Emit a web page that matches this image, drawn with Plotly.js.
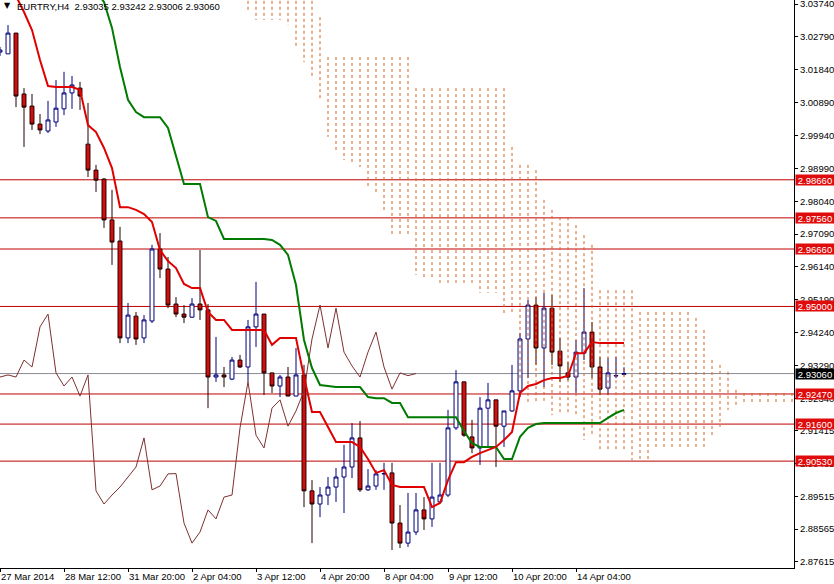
<!DOCTYPE html>
<html>
<head>
<meta charset="utf-8">
<script src="https://cdn.plot.ly/plotly-3.0.1.min.js"></script>
<style>html,body{margin:0;padding:0;background:#fff;}#chart{width:834px;height:584px;}</style>
</head>
<body>
<div id="chart"></div>
<script>
// ---- Data (EURTRY, H4) ----
const symbolTitle = "EURTRY,H4  2.93035 2.93242 2.93006 2.93060";
const open = [3.0235, 3.0230, 3.0290, 3.0114, 3.0079, 3.0027, 3.0007, 3.0033, 3.0071, 3.0117,
 3.0131, 2.9969, 2.9894, 2.9868, 2.9750, 2.9689, 2.9409, 2.9472, 2.9409, 2.9458,
 2.9666, 2.9608, 2.9507, 2.9478, 2.9469, 2.9507, 2.9490, 2.9296, 2.9302, 2.9290,
 2.9345, 2.9325, 2.9441, 2.9478, 2.9308, 2.9270, 2.9296, 2.9241, 2.9302, 2.8967,
 2.8929, 2.8955, 2.8978, 2.9007, 2.9036, 2.9120, 2.8970, 2.8981, 2.9016, 2.9019,
 2.8874, 2.8816, 2.8848, 2.8912, 2.8886, 2.8935, 2.8955, 2.9149, 2.9282, 2.9123,
 2.9091, 2.9206, 2.9230, 2.9154, 2.9198, 2.9256, 2.9406, 2.9504, 2.9380, 2.9495,
 2.9371, 2.9308, 2.9296, 2.9365, 2.9426, 2.9325, 2.9264, 2.9299, 2.93035];
const high = [3.0250, 3.0313, 3.0290, 3.0131, 3.0114, 3.0056, 3.0094, 3.0154, 3.0178, 3.0166,
 3.0149, 3.0088, 2.9909, 2.9871, 2.9837, 2.9730, 2.9510, 2.9484, 2.9475, 2.9678,
 2.9712, 2.9643, 2.9527, 2.9504, 2.9524, 2.9663, 2.9507, 2.9412, 2.9325, 2.9354,
 2.9360, 2.9461, 2.9571, 2.9478, 2.9308, 2.9302, 2.9325, 2.9380, 2.9331, 2.8998,
 2.8978, 2.9007, 2.9033, 2.9100, 2.9163, 2.9169, 2.9030, 2.9027, 2.9048, 2.9048,
 2.8926, 2.8961, 2.8961, 2.8949, 2.9048, 2.9048, 2.9201, 2.9316, 2.9282, 2.9172,
 2.9238, 2.9279, 2.9230, 2.9198, 2.9331, 2.9423, 2.9519, 2.9527, 2.9539, 2.9533,
 2.9409, 2.9339, 2.9403, 2.9553, 2.9455, 2.9354, 2.9351, 2.9354, 2.93242];
const low = [3.0224, 3.0230, 3.0076, 2.9961, 3.0010, 2.9998, 3.0001, 3.0019, 3.0053, 3.0071,
 3.0068, 2.9874, 2.9831, 2.9727, 2.9620, 2.9394, 2.9394, 2.9389, 2.9394, 2.9452,
 2.9582, 2.9495, 2.9469, 2.9452, 2.9467, 2.9461, 2.9206, 2.9282, 2.9267, 2.9287,
 2.9322, 2.9282, 2.9383, 2.9244, 2.9250, 2.9238, 2.9241, 2.9241, 2.8920, 2.8816,
 2.8891, 2.8926, 2.8935, 2.8903, 2.9004, 2.8964, 2.8967, 2.8970, 2.8970, 2.8796,
 2.8802, 2.8805, 2.8839, 2.8854, 2.8863, 2.8932, 2.8949, 2.9143, 2.9123, 2.9076,
 2.9042, 2.9094, 2.9036, 2.9094, 2.9195, 2.9238, 2.9293, 2.9331, 2.9267, 2.9331,
 2.9282, 2.9287, 2.9250, 2.9345, 2.9293, 2.9244, 2.9244, 2.9293, 2.93006];
const close = [3.0241, 3.0290, 3.0108, 3.0076, 3.0027, 3.0010, 3.0039, 3.0073, 3.0117, 3.0140,
 3.0108, 2.9894, 2.9865, 2.9750, 2.9686, 2.9409, 2.9475, 2.9406, 2.9461, 2.9666,
 2.9608, 2.9504, 2.9478, 2.9469, 2.9507, 2.9490, 2.9296, 2.9302, 2.9296, 2.9345,
 2.9325, 2.9441, 2.9478, 2.9308, 2.9270, 2.9296, 2.9241, 2.9302, 2.8967, 2.8929,
 2.8955, 2.8978, 2.9007, 2.9036, 2.9120, 2.8970, 2.8981, 2.9016, 2.9017, 2.8874,
 2.8816, 2.8848, 2.8912, 2.8886, 2.8949, 2.8955, 2.9149, 2.9282, 2.9128, 2.9091,
 2.9206, 2.9230, 2.9154, 2.9198, 2.9256, 2.9406, 2.9504, 2.9380, 2.9495, 2.9368,
 2.9328, 2.9296, 2.9368, 2.9426, 2.9325, 2.9261, 2.9308, 2.9300, 2.93060];

// Ichimoku Tenkan-sen (red) and Kijun-sen (green)
const tenkan = [3.0501, 3.0443, 3.0397, 3.0351, 3.0299, 3.0212, 3.0137, 3.0134, 3.0134, 3.0134,
 3.0126, 3.0024, 3.0004, 2.9958, 2.9900, 2.9787, 2.9787, 2.9779, 2.9767, 2.9744,
 2.9663, 2.9631, 2.9611, 2.9565, 2.9553, 2.9553, 2.9484, 2.9461, 2.9461, 2.9432,
 2.9432, 2.9432, 2.9432, 2.9432, 2.9389, 2.9409, 2.9409, 2.9409, 2.9296, 2.9195,
 2.9195, 2.9152, 2.9108, 2.9108, 2.9108, 2.9094, 2.9059, 2.9019, 2.9027, 2.8984,
 2.8978, 2.8978, 2.8978, 2.8978, 2.8920, 2.8932, 2.8998, 2.9050, 2.9050, 2.9065,
 2.9076, 2.9085, 2.9094, 2.9114, 2.9137, 2.9250, 2.9270, 2.9276, 2.9287, 2.9293,
 2.9293, 2.9299, 2.9365, 2.9365, 2.9397, 2.9394, 2.9394, 2.9394, 2.9394];
const kijun = [null, null, null, null, null, null, null, null, null, null,
 null, null, 3.0409, 3.0380, 3.0305, 3.0192, 3.0097, 3.0062, 3.0047, 3.0047,
 3.0047, 3.0016, 2.9932, 2.9854, 2.9854, 2.9854, 2.9758, 2.9747, 2.9695, 2.9695,
 2.9695, 2.9695, 2.9695, 2.9695, 2.9692, 2.9678, 2.9649, 2.9562, 2.9403, 2.9322,
 2.9273, 2.9270, 2.9267, 2.9267, 2.9267, 2.9267, 2.9238, 2.9235, 2.9235, 2.9221,
 2.9221, 2.9180, 2.9180, 2.9180, 2.9180, 2.9180, 2.9180, 2.9180, 2.9140, 2.9105,
 2.9094, 2.9094, 2.9094, 2.9059, 2.9059, 2.9123, 2.9149, 2.9160, 2.9163, 2.9163,
 2.9163, 2.9163, 2.9163, 2.9163, 2.9163, 2.9163, 2.9178, 2.9192, 2.9201];

// Kumo (cloud) bounds, starting at bar cloudStart
const cloudStart = 31;
const cloudUpper = [3.0470, 3.0470, 3.0470, 3.0470, 3.0470, 3.0470, 3.0470, 3.0470, 3.0470,
 3.0336, 3.0221, 3.0221, 3.0221, 3.0221, 3.0221, 3.0221, 3.0221, 3.0221, 3.0221, 3.0221, 3.0221,
 3.0131, 3.0131, 3.0131, 3.0131, 3.0131, 3.0131, 3.0131, 3.0131, 3.0131, 3.0131, 3.0131, 3.0131,
 2.9961, 2.9909, 2.9909, 2.9894, 2.9808, 2.9779, 2.9758, 2.9758, 2.9735, 2.9706, 2.9678,
 2.9547, 2.9547, 2.9547, 2.9547, 2.9547,
 2.9484, 2.9484, 2.9484, 2.9484, 2.9484, 2.9484, 2.9484,
 2.9467, 2.9432, 2.9345, 2.9331, 2.9311, 2.9259,
 2.9250, 2.9250, 2.9250, 2.9250, 2.9250, 2.9250, 2.9250];
const cloudLower = [3.0351, 3.0328, 3.0328, 3.0328, 3.0328, 3.0313, 3.0247, 3.0206, 3.0157,
 3.0102, 2.9990, 2.9943, 2.9923, 2.9909, 2.9903, 2.9842, 2.9828, 2.9773, 2.9706, 2.9706, 2.9706,
 2.9591, 2.9582, 2.9576, 2.9568, 2.9568, 2.9568, 2.9568, 2.9568, 2.9539, 2.9539, 2.9539, 2.9481,
 2.9481, 2.9287, 2.9224, 2.9224, 2.9224, 2.9186, 2.9186, 2.9186, 2.9186, 2.9114, 2.9128,
 2.9079, 2.9079, 2.9079, 2.9079, 2.9056,
 2.9056, 2.9056, 2.9094, 2.9094, 2.9094, 2.9094, 2.9094,
 2.9094, 2.9094, 2.9123, 2.9152, 2.9201, 2.9215,
 2.9215, 2.9215, 2.9215, 2.9215, 2.9215, 2.9215, 2.9215];

// Horizontal levels and last price
const levels = [2.9866, 2.9756, 2.9666, 2.9500, 2.9247, 2.9160, 2.9053];
const levelLabels = ["2.98660", "2.97560", "2.96660", "2.95000", "2.92470", "2.91600", "2.90530"];
const lastPrice = 2.9306;
const lastPriceLabel = "2.93060";

// Axis ticks
const xTickBars = [0, 8, 16, 24, 32, 40, 48, 56, 64, 72];
const xTickText = ["27 Mar 2014", "28 Mar 12:00", "31 Mar 20:00", "2 Apr 04:00", "3 Apr 12:00",
 "4 Apr 20:00", "8 Apr 04:00", "9 Apr 12:00", "10 Apr 20:00", "14 Apr 04:00"];
const yTickText = ["3.03740", "3.02790", "3.01840", "3.00890", "2.99940", "2.98990", "2.98040",
 "2.97090", "2.96140", "2.95190", "2.94240", "2.93290", "2.92340", "2.91415", "2.90465",
 "2.89515", "2.88565", "2.87615"];
const yTickVals = yTickText.map(Number);

// ---- Build traces ----
const bars = open.map((_, i) => i);
const chikouShift = 26;

const cx = [], cy = [];
cloudUpper.forEach((u, k) => {
  const i = cloudStart + k;
  cx.push(i, i, null);
  cy.push(u, cloudLower[k], null);
});

const traces = [
  { type: 'scatter', mode: 'lines', x: cx, y: cy, hoverinfo: 'skip',
    line: { color: '#cf6420', width: 1, dash: '3px,3px' } },
  { type: 'candlestick', x: bars, open: open, high: high, low: low, close: close,
    whiskerwidth: 0,
    increasing: { line: { color: '#00007a', width: 1 }, fillcolor: '#ffffff' },
    decreasing: { line: { color: '#200000', width: 1 }, fillcolor: '#d80c0c' } },
  { type: 'scatter', mode: 'lines', x: bars.slice(0, close.length - chikouShift),
    y: close.slice(chikouShift), line: { color: '#7e3030', width: 1 } },
  { type: 'scatter', mode: 'lines', x: bars, y: kijun, line: { color: '#007a00', width: 2 } },
  { type: 'scatter', mode: 'lines', x: bars, y: tenkan, line: { color: '#e00000', width: 2 } }
];

const shapes = levels.map(v => ({ type: 'line', xref: 'paper', x0: 0, x1: 1, yref: 'y', y0: v, y1: v,
  layer: 'below', line: { color: '#c00000', width: 1 } }));
shapes.push({ type: 'line', xref: 'paper', x0: 0, x1: 1, yref: 'y', y0: lastPrice, y1: lastPrice,
  layer: 'below', line: { color: '#8a8a96', width: 1 } });

const annotations = levels.map((v, k) => ({
  xref: 'paper', x: 1, xanchor: 'left', xshift: 1, yref: 'y', y: v, yanchor: 'middle',
  text: levelLabels[k], showarrow: false, bgcolor: '#e00b0b', borderpad: 0, width: 38, height: 10,
  font: { color: '#ffffff', size: 9.5, family: 'Liberation Sans, Arial, sans-serif' }
}));
annotations.push({
  xref: 'paper', x: 1, xanchor: 'left', xshift: 1, yref: 'y', y: lastPrice, yanchor: 'middle',
  text: lastPriceLabel, showarrow: false, bgcolor: '#000000', borderpad: 0, width: 38, height: 10,
  font: { color: '#ffffff', size: 9.5, family: 'Liberation Sans, Arial, sans-serif' }
});
annotations.push({
  xref: 'paper', x: 0, xanchor: 'left', xshift: 15, yref: 'paper', y: 1, yanchor: 'top', yshift: 1,
  text: symbolTitle, showarrow: false,
  font: { color: '#000000', size: 9.5, family: 'Liberation Sans, Arial, sans-serif' }
});
annotations.push({
  xref: 'paper', x: 0, xanchor: 'left', xshift: 2, yref: 'paper', y: 1, yanchor: 'top', yshift: 1,
  text: '▼', showarrow: false,
  font: { color: '#000000', size: 8, family: 'DejaVu Sans, sans-serif' }
});

const layout = {
  width: 834, height: 584,
  margin: { l: 0, r: 40, t: 0, b: 16, pad: 0 },
  paper_bgcolor: '#ffffff', plot_bgcolor: '#ffffff',
  showlegend: false,
  font: { family: 'Liberation Sans, Arial, sans-serif', size: 9.5, color: '#000000' },
  xaxis: {
    range: [0, 99.25], showgrid: false, zeroline: false,
    showline: true, linecolor: '#000000', linewidth: 1,
    ticks: 'outside', ticklen: 3, tickcolor: '#000000',
    tickvals: xTickBars, ticktext: xTickText, ticklabelposition: 'outside right',
    tickangle: 0, ticklabeloverflow: 'allow', ticklabelstandoff: 0,
    tickfont: { size: 9.5 }, rangeslider: { visible: false }, fixedrange: true
  },
  yaxis: {
    side: 'right', range: [2.87441, 3.03856], showgrid: false, zeroline: false,
    showline: true, linecolor: '#000000', linewidth: 1,
    ticks: 'outside', ticklen: 3, tickcolor: '#000000', ticklabeloverflow: 'allow',
    tickvals: yTickVals, ticktext: yTickText, tickfont: { size: 9.5 }, fixedrange: true
  },
  shapes: shapes,
  annotations: annotations
};

Plotly.newPlot('chart', traces, layout, { staticPlot: true, displayModeBar: false });
</script>
</body>
</html>
